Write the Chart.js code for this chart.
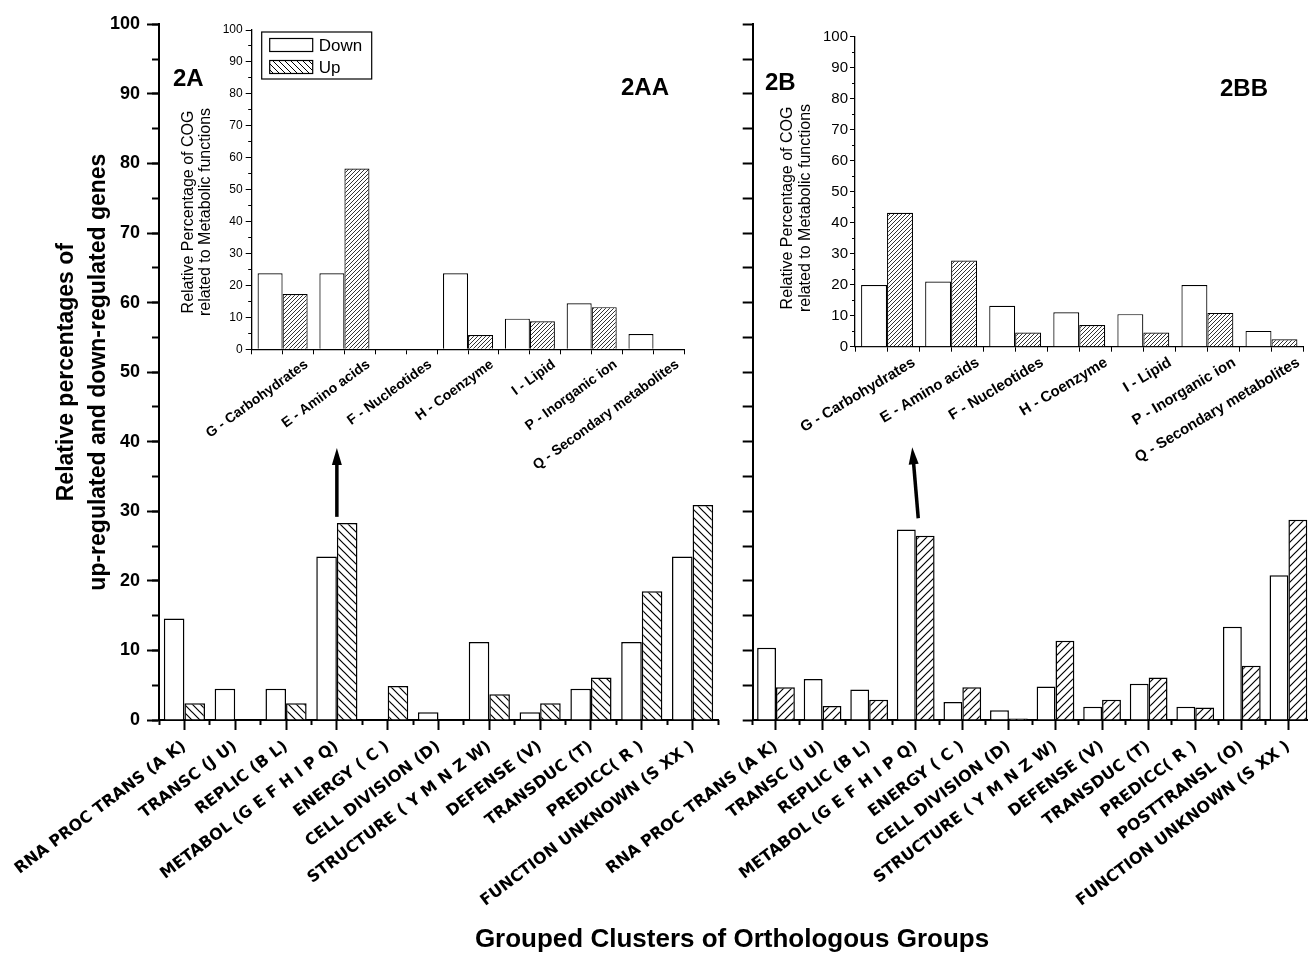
<!DOCTYPE html>
<html>
<head>
<meta charset="utf-8">
<script src="https://cdn.jsdelivr.net/npm/chart.js@4.4.1/dist/chart.umd.min.js"></script>
<style>
html, body { margin: 0; padding: 0; background: #fff; overflow: hidden; width: 1308px; height: 954px; }
canvas { position: absolute; }
#xtitle { position: absolute; left: 432px; width: 600px; top: 923px; line-height: 30px; text-align: center;
          font: bold 26px "Liberation Sans", Arial, sans-serif; color: #000; white-space: nowrap; }
</style>
</head>
<body>
<canvas id="mainA" width="730" height="954" style="left:0;top:0"></canvas>
<canvas id="mainB" width="760" height="954" style="left:560px;top:0"></canvas>
<canvas id="insetA" width="530" height="500" style="left:170px;top:0"></canvas>
<canvas id="insetB" width="560" height="500" style="left:760px;top:0"></canvas>
<div id="xtitle">Grouped Clusters of Orthologous Groups</div>
<script>
// main panels (percent of up / down regulated genes per COG group)
const catsA = ['RNA PROC TRANS (A K)', 'TRANSC (J U)', 'REPLIC (B L)', 'METABOL (G E F H I P Q)', 'ENERGY ( C )',
  'CELL DIVISION (D)', 'STRUCTURE ( Y M N Z W)', 'DEFENSE (V)', 'TRANSDUC (T)', 'PREDICC( R )', 'FUNCTION UNKNOWN (S XX )'];
const downA = [14.6, 4.5, 4.5, 23.5, 0, 1.1, 11.2, 1.1, 4.5, 11.2, 23.5];
const upA   = [2.4, 0, 2.4, 28.3, 4.9, 0, 3.7, 2.4, 6.1, 18.5, 30.9];

const catsB = ['RNA PROC TRANS (A K)', 'TRANSC (J U)', 'REPLIC (B L)', 'METABOL (G E F H I P Q)', 'ENERGY ( C )',
  'CELL DIVISION (D)', 'STRUCTURE ( Y M N Z W)', 'DEFENSE (V)', 'TRANSDUC (T)', 'PREDICC( R )', 'POSTTRANSL (O)',
  'FUNCTION UNKNOWN (S XX )'];
const downB = [10.4, 5.9, 4.4, 27.4, 2.6, 1.4, 4.8, 1.9, 5.2, 1.9, 13.4, 20.8];
const upB   = [4.7, 2.0, 2.9, 26.5, 4.7, 0.2, 11.4, 2.9, 6.1, 1.8, 7.8, 28.8];

// insets (metabolic COG breakdown)
const metaCats = ['G - Carbohydrates', 'E - Amino acids', 'F - Nucleotides', 'H - Coenzyme', 'I - Lipid',
  'P - Inorganic ion', 'Q - Secondary metabolites'];
const metaDownA = [23.8, 23.8, 0, 23.8, 9.6, 14.4, 4.8];
const metaUpA   = [17.3, 56.6, 0, 4.5, 8.8, 13.2, 0];
const metaDownB = [19.9, 21.0, 13.2, 11.1, 10.5, 19.9, 5.1];
const metaUpB   = [43.2, 27.8, 4.6, 7.0, 4.6, 10.9, 2.4];

const yRange = [0, 100];
const yStep = 10;

const FONT = '"Liberation Sans", Arial, sans-serif';

function hatch(dir, s, color, lw) {
  const c = document.createElement('canvas');
  c.width = s; c.height = s;
  const g = c.getContext('2d');
  g.fillStyle = '#fff';
  g.fillRect(0, 0, s, s);
  g.strokeStyle = color;
  g.lineWidth = lw;
  g.beginPath();
  if (dir === '/') {
    g.moveTo(-1, s + 1); g.lineTo(s + 1, -1);
    g.moveTo(-2, 2); g.lineTo(2, -2);
    g.moveTo(s - 2, s + 2); g.lineTo(s + 2, s - 2);
  } else {
    g.moveTo(-1, -1); g.lineTo(s + 1, s + 1);
    g.moveTo(-2, s - 2); g.lineTo(2, s + 2);
    g.moveTo(s - 2, -2); g.lineTo(s + 2, 2);
  }
  g.stroke();
  return g.createPattern(c, 'repeat');
}

// panel labels + arrow
const annot = {
  id: 'annot',
  afterDraw(chart, args, o) {
    const ctx = chart.ctx;
    ctx.save();
    ctx.fillStyle = '#000';
    ctx.font = 'bold 24px ' + FONT;
    ctx.textBaseline = 'alphabetic';
    (o.texts || []).forEach(t => ctx.fillText(t.text, t.x, t.y));
    if (o.arrow) {
      const a = o.arrow, sx = chart.scales.x, sy = chart.scales.y;
      const xc = sx.getPixelForValue(a.index);
      const x0 = xc + a.dx0, y0 = sy.getPixelForValue(a.from);
      const x1 = xc + a.dx1, y1 = sy.getPixelForValue(a.to);
      const L = Math.hypot(x0 - x1, y0 - y1), ux = (x0 - x1) / L, uy = (y0 - y1) / L;
      ctx.strokeStyle = '#000';
      ctx.lineWidth = 3.5;
      ctx.beginPath();
      ctx.moveTo(x0, y0);
      ctx.lineTo(x1 + ux * 12, y1 + uy * 12);
      ctx.stroke();
      ctx.beginPath();
      ctx.moveTo(x1, y1);
      ctx.lineTo(x1 + ux * 17 - uy * 5, y1 + uy * 17 + ux * 5);
      ctx.lineTo(x1 + ux * 17 + uy * 5, y1 + uy * 17 - ux * 5);
      ctx.closePath();
      ctx.fill();
    }
    ctx.restore();
  }
};

// rotated two-line axis title for the insets
const sideTitle = {
  id: 'sideTitle',
  afterDraw(chart, args, o) {
    if (!o.lines) return;
    const ctx = chart.ctx;
    ctx.save();
    ctx.fillStyle = '#000';
    ctx.font = o.font;
    ctx.textAlign = 'center';
    ctx.textBaseline = 'middle';
    ctx.translate(o.x, o.y);
    ctx.rotate(-Math.PI / 2);
    o.lines.forEach((t, i) => ctx.fillText(t, 0, i * o.lh));
    ctx.restore();
  }
};

// boxed legend inside inset 2AA
const boxLegend = {
  id: 'boxLegend',
  afterDraw(chart, args, o) {
    if (!o.show) return;
    const ctx = chart.ctx, ca = chart.chartArea;
    const x = ca.left + 10, y = ca.top + 2, w = 110, h = 47;
    ctx.save();
    ctx.fillStyle = '#fff';
    ctx.fillRect(x, y, w, h);
    ctx.strokeStyle = '#000';
    ctx.lineWidth = 1.2;
    ctx.strokeRect(x, y, w, h);
    chart.data.datasets.forEach((ds, i) => {
      const cy = y + 13 + i * 22;
      ctx.fillStyle = o.swatches[i];
      ctx.fillRect(x + 8, cy - 6.5, 43, 13);
      ctx.strokeRect(x + 8, cy - 6.5, 43, 13);
      ctx.fillStyle = '#000';
      ctx.font = '17px ' + FONT;
      ctx.textBaseline = 'middle';
      ctx.fillText(ds.label, x + 57, cy + 1);
    });
    ctx.restore();
  }
};

function barSets(down, up, pattern, bw) {
  return [
    { label: 'Down', data: down, backgroundColor: '#fff', borderColor: '#000', borderWidth: bw,
      categoryPercentage: 0.81, barPercentage: 1.0, xAxisID: 'x', yAxisID: 'y' },
    { label: 'Up', data: up, backgroundColor: pattern, borderColor: '#000', borderWidth: bw,
      categoryPercentage: 0.81, barPercentage: 1.0, xAxisID: 'x', yAxisID: 'y' }
  ];
}

// one category axis for labels/centre ticks, one for the boundary ticks
function xAxes(o) {
  return {
    x: {
      type: 'category', position: 'bottom', offset: true, weight: 1,
      grid: { offset: false, drawOnChartArea: false, tickLength: o.major, tickWidth: o.tw, tickColor: '#000' },
      border: { display: true, color: '#000', width: o.bw },
      ticks: { autoSkip: false, minRotation: o.rot, maxRotation: o.rot, color: '#000', font: o.font,
               padding: o.pad, labelOffset: o.labelOffset },
      afterFit: s => { s.height = o.height; }
    },
    xm: {
      type: 'category', position: 'bottom', offset: true, weight: 0,
      grid: { offset: true, drawOnChartArea: false, tickLength: o.minor, tickWidth: o.tw, tickColor: '#000' },
      border: { display: false },
      ticks: { display: false },
      afterFit: s => { s.height = 0; }
    }
  };
}

function yAxes(o) {
  const ax = {
    y: {
      type: 'linear', position: 'left', min: yRange[0], max: yRange[1], weight: 1,
      grid: { drawOnChartArea: false, tickLength: o.major, tickWidth: o.tw, tickColor: '#000' },
      border: { display: true, color: '#000', width: o.bw },
      ticks: { display: o.labels, stepSize: o.step, color: '#000', font: o.font, padding: o.pad },
      title: o.title ? { display: true, text: o.title, color: '#000', font: o.titleFont,
                         padding: { top: o.titlePad, bottom: 0 } } : { display: false },
      afterFit: s => { s.width = o.width; }
    }
  };
  if (o.minor) {
    ax.ym = {
      type: 'linear', position: 'left', min: yRange[0], max: yRange[1], weight: 0,
      grid: { drawOnChartArea: false, tickLength: o.minor, tickWidth: o.tw, tickColor: '#000' },
      border: { display: false },
      ticks: { display: false, stepSize: o.step / 2 },
      afterFit: s => { s.width = 0; }
    };
  }
  return ax;
}

const common = {
  responsive: false, animation: false, events: [],
  plugins: { legend: { display: false }, tooltip: { enabled: false } }
};

const mainLabelFont = { family: '"DejaVu Sans"', size: 16, weight: 'bold' };
const insetTitle = ['Relative Percentage of COG', 'related to Metabolic functions'];

// ---- 2A
new Chart(document.getElementById('mainA'), {
  type: 'bar',
  data: { labels: catsA, datasets: barSets(downA, upA, hatch('\\', 8, '#000', 1.2), 1.5) },
  options: Object.assign({}, common, {
    layout: { padding: { top: 24.3, right: 12, left: 0, bottom: 0 } },
    scales: Object.assign(
      yAxes({ major: 12, minor: 7, tw: 2, bw: 2, labels: true, step: yStep, width: 159, pad: 7,
              font: { family: FONT, size: 18, weight: 'bold' },
              title: ['Relative percentages of', 'up-regulated and down-regulated genes'],
              titleFont: { family: FONT, size: 23, weight: 'bold', lineHeight: 1.38 }, titlePad: 51 }),
      xAxes({ major: 10, minor: 5, tw: 2, bw: 2, rot: 37, font: mainLabelFont, pad: 7, labelOffset: 0, height: 234 })
    ),
    plugins: Object.assign({}, common.plugins, {
      annot: { texts: [{ text: '2A', x: 173, y: 86 }, { text: '2AA', x: 621, y: 95 }],
               arrow: { index: 3, from: 29.2, to: 39.1, dx0: 0, dx1: 0 } }
    })
  }),
  plugins: [annot]
});

// ---- 2B
new Chart(document.getElementById('mainB'), {
  type: 'bar',
  data: { labels: catsB, datasets: barSets(downB, upB, hatch('/', 8, '#000', 1.2), 1.5) },
  options: Object.assign({}, common, {
    layout: { padding: { top: 24.3, right: 8.3, left: 0, bottom: 0 } },
    scales: Object.assign(
      yAxes({ major: 10, tw: 2, bw: 2, labels: false, step: 5, width: 192.7, pad: 0 }),
      xAxes({ major: 10, minor: 5, tw: 2, bw: 2, rot: 37, font: mainLabelFont, pad: 7, labelOffset: 0, height: 234 })
    ),
    plugins: Object.assign({}, common.plugins, {
      annot: { texts: [{ text: '2B', x: 205, y: 90 }, { text: '2BB', x: 660, y: 96 }],
               arrow: { index: 3, from: 29.0, to: 39.2, dx0: 2.5, dx1: -3.5 } }
    })
  }),
  plugins: [annot]
});

// ---- 2AA inset
new Chart(document.getElementById('insetA'), {
  type: 'bar',
  data: { labels: metaCats, datasets: barSets(metaDownA, metaUpA, hatch('/', 4, '#333', 1), 1.2) },
  options: Object.assign({}, common, {
    layout: { padding: { top: 30, right: 15.6, left: 0, bottom: 0 } },
    scales: Object.assign(
      yAxes({ major: 6, minor: 3.5, tw: 1, bw: 1.3, labels: true, step: yStep, width: 81.7, pad: 3,
              font: { family: FONT, size: 12 } }),
      xAxes({ major: 5, minor: 5, tw: 1, bw: 1.3, rot: 36, font: { family: FONT, size: 14, weight: 'bold' },
              pad: 2, labelOffset: 24, height: 150.7 })
    ),
    plugins: Object.assign({}, common.plugins, {
      boxLegend: { show: true, swatches: ['#fff', hatch('\\', 6, '#000', 1)] },
      sideTitle: { lines: insetTitle, x: 19, y: 212, lh: 16.5, font: '16px ' + FONT }
    })
  }),
  plugins: [boxLegend, sideTitle]
});

// ---- 2BB inset
new Chart(document.getElementById('insetB'), {
  type: 'bar',
  data: { labels: metaCats, datasets: barSets(metaDownB, metaUpB, hatch('/', 4, '#333', 1), 1.2) },
  options: Object.assign({}, common, {
    layout: { padding: { top: 36.7, right: 16.5, left: 0, bottom: 0 } },
    scales: Object.assign(
      yAxes({ major: 5, minor: 3, tw: 1, bw: 1.3, labels: true, step: yStep, width: 95, pad: 2,
              font: { family: FONT, size: 15 } }),
      xAxes({ major: 5, minor: 5, tw: 1, bw: 1.3, rot: 31, font: { family: FONT, size: 15, weight: 'bold' },
              pad: 2, labelOffset: 27, height: 153.3 })
    ),
    plugins: Object.assign({}, common.plugins, {
      sideTitle: { lines: insetTitle, x: 28, y: 208, lh: 18, font: '16px ' + FONT }
    })
  }),
  plugins: [sideTitle]
});
</script>
</body>
</html>
